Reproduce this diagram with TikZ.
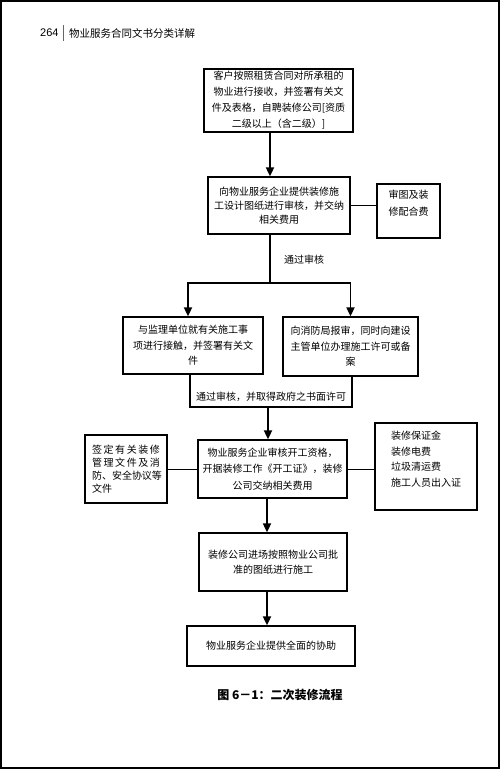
\documentclass[tikz,border=0pt]{standalone}
\usepackage{fontspec}
\newfontfamily\cjk{Noto Sans CJK SC}
\newfontfamily\hdr{Liberation Sans}
\usetikzlibrary{arrows.meta}
\newcommand\spreadline[1]{\hbox to 68pt{#1}}

\begin{document}
\begin{tikzpicture}[x=1pt, y=-1pt,
		m/.style = {rectangle, draw=black, line width=1.3pt, align=center, inner sep=1pt, font=\cjk\fontsize{10}{15.5}\selectfont},
		s/.style = {rectangle, draw=black, line width=1.1pt, align=left,   inner sep=1pt, font=\cjk\fontsize{10}{15.5}\selectfont},
		p/.style = {inner sep=1pt, font=\cjk\fontsize{10}{12}\selectfont},
		r/.style = {-{Triangle[length=9pt, width=8pt]}, line width=1.8pt},
		w/.style = {line width=1.8pt},
		l/.style = {line width=1pt},
		j/.style = {line width=1.3pt},
		]
		
		\useasboundingbox (0,0) rectangle (500,769);
		\draw[line width=2pt] (1,1) rectangle (499,768);
		
		% === === Header === ===
		\node[anchor=west, inner sep=0pt, font=\hdr\fontsize{11}{11}\selectfont]	(page)	at	(40, 33)	{264};
		\draw[line width=0.6pt, black!60]	(63, 25)	--	(63, 41);
		\node[anchor=west, inner sep=0pt, font=\cjk\fontsize{10.5}{12}\selectfont]	(book)	at	(69, 33)	{物业服务合同文书分类详解};
		
		% === === Nodes === ===
		\coordinate	(axis)	at	(270, 0);
		\coordinate	(lower)	at	(267, 0);
		
		\node[m, minimum width=149, minimum height=63, font=\cjk\fontsize{10}{16}\selectfont]	(accept)	at	(278.5, 100.5)
			{客户按照租赁合同对所承租的\\物业进行接收，并签署有关文\\件及表格，自聘装修公司[资质\\二级以上（含二级）]};
		\node[m, minimum width=142, minimum height=57, font=\cjk\fontsize{10}{14}\selectfont]	(design)	at	(279, 205.5)
			{向物业服务企业提供装修施\\工设计图纸进行审核，并交纳\\相关费用};
		\node[s, minimum width=63,  minimum height=54, font=\cjk\fontsize{10}{17}\selectfont]	(review)	at	(408.5, 211)
			{审图及装\\修配合费\\~};
		
		\node[m, minimum width=140, minimum height=57]	(super)	at	(193, 345.5)
			{与监理单位就有关施工事\\项进行接触，并签署有关文\\件};
		\node[m, minimum width=135, minimum height=59]	(fire)	at	(350.5, 346.5)
			{向消防局报审，同时向建设\\主管单位办理施工许可或备\\案};
		
		\node[m, minimum width=149, minimum height=58, font=\cjk\fontsize{10}{16.5}\selectfont]	(permit)	at	(272.5, 469)
			{物业服务企业审核开工资格，\\开据装修工作《开工证》，装修\\公司交纳相关费用};
		\node[s, minimum width=82,  minimum height=68, font=\cjk\fontsize{10}{13}\selectfont]	(sign)	at	(126, 469)
			{\spreadline{签\hfil 定\hfil 有\hfil 关\hfil 装\hfil 修}\\
			 \spreadline{管\hfil 理\hfil 文\hfil 件\hfil 及\hfil 消}\\
			 \spreadline{防、\hfil 安\hfil 全\hfil 协\hfil 议\hfil 等}\\文件};
		\node[s, minimum width=102, minimum height=87]	(fees)	at	(426, 466.5)
			{装修保证金\\装修电费\\垃圾清运费\\施工人员出入证\\~};
		
		\node[m, minimum width=148, minimum height=58]	(build)		at	(273, 562)
			{装修公司进场按照物业公司批\\准的图纸进行施工};
		\node[m, minimum width=168, minimum height=40]	(assist)	at	(271, 646)
			{物业服务企业提供全面的协助};
		
		\node[p]	(pass)	at	(304, 260)	{通过审核};
		\node[p]	(grant)	at	(271, 397)	{通过审核，并取得政府之书面许可};
		
		\node[inner sep=0pt, font=\cjk\bfseries\fontsize{12}{14}\selectfont]	(caption)	at	(280, 695)
			{图 6－1：二次装修流程};
		
		% === === Connectors === ===
		\coordinate	(split)	at	(270, 283);
		\coordinate	(ml)	at	(190, 407);
		\coordinate	(mr)	at	(352, 407);
		\coordinate	(merge)	at	(268, 407);
		
		\draw[r]	(accept.south -| axis)	--	(design.north -| axis);
		\draw[l]	(design.east)	--	(design.east -| review.west);
		\draw[w]	(design.south -| axis)	--	(split);
		\draw[r]	(split)	-|	([xshift=-5pt]super.north);
		\draw[r]	(split)	-|	(fire.north);
		
		\draw[j]	(super.south -| ml)	--	(ml)	--	(mr)	--	(fire.south -| mr);
		\draw[r]	(merge)	--	(permit.north -| merge);
		
		\draw[l]	(sign.east)	--	(permit.west);
		\draw[l]	(permit.east)	--	(permit.east -| fees.west);
		
		\draw[r]	(permit.south -| lower)	--	(build.north -| lower);
		\draw[r]	(build.south -| lower)	--	(assist.north -| lower);
		
	\end{tikzpicture}
\end{document}
